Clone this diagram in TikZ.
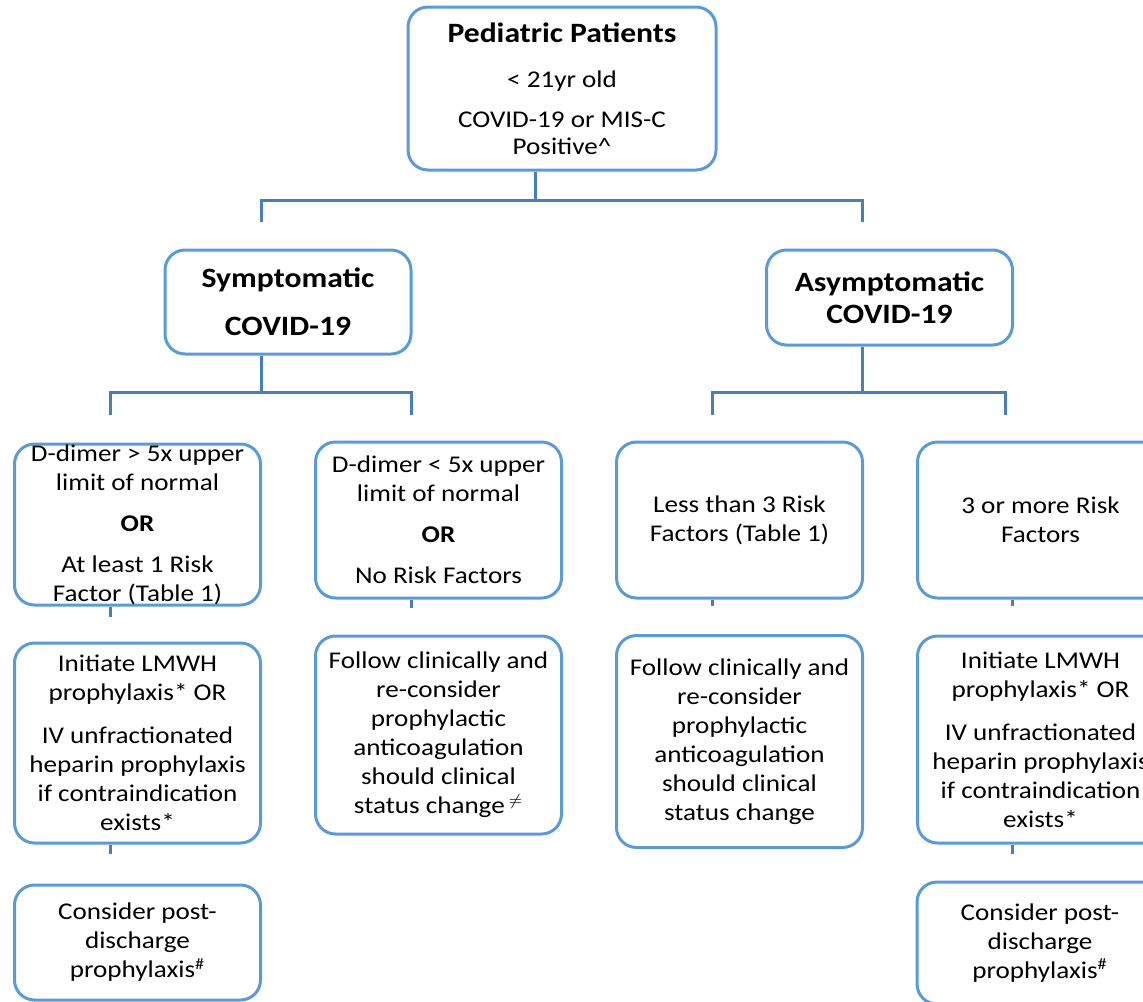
\documentclass[tikz,border=0pt]{standalone}
\usepackage{fontspec}
\setmainfont{Carlito}[FakeStretch=1.13]
\usepackage{tikz}
\usetikzlibrary{positioning}

\definecolor{boxblue}{RGB}{91,155,213}
\definecolor{lineblue}{RGB}{74,126,187}

\begin{document}
\begin{tikzpicture}[x=0.5pt,
            y=-0.5pt,
            node distance=150.5pt,
            box/.style={draw=boxblue, line width=1.5pt, rounded corners=10pt,
                        align=center, inner sep=0pt, minimum width=123pt,
                        font=\fontsize{12}{14.5}\selectfont},
            head/.style={box, font=\fontsize{14}{17}\selectfont\bfseries},
            link/.style={draw=lineblue, line width=1.5pt}]

        \useasboundingbox (0,0) rectangle (1143,1001);
        \clip (0,0) rectangle (1143,1001);

        % top of the tree
        \node[box, minimum width=154pt, minimum height=81.5pt] (top) at (562,88.5)
            {{\fontsize{14}{17}\selectfont\bfseries Pediatric Patients}\\[8pt]
             {\textless} 21yr old\\[5.5pt]
             COVID-19 or MIS-C\\[-1pt]Positive\textasciicircum};

        \node[head, minimum height=52pt] (sym)  at (288,302)     {Symptomatic\\[7pt]COVID-19};
        \node[head, minimum height=47.5pt] (asym) at (889.5,297.5) {Asymptomatic\\[-1pt]COVID-19};

        % criteria
        \node[box, minimum height=80.5pt] (r3a) at (137.5,524.5)
            {D-dimer {\textgreater} 5x upper\\limit of normal\\[6pt]\textbf{OR}\\[6pt]At least 1 Risk\\Factor (Table 1)};
        \node[box, minimum height=78pt]   (r3b) [right of=r3a, yshift=2.25pt]
            {D-dimer {\textless} 5x upper\\limit of normal\\[6pt]\textbf{OR}\\[6pt]No Risk Factors};
        \node[box, minimum height=78pt]   (r3c) [right of=r3b] {Less than 3 Risk\\Factors (Table 1)};
        \node[box, minimum height=78pt]   (r3d) [right of=r3c] {3 or more Risk\\Factors};

        % management
        \node[box, minimum height=100pt] (r4a) at (137.5,743)
            {Initiate LMWH\\prophylaxis* OR\\[7pt]IV unfractionated\\heparin prophylaxis\\if contraindication\\exists*};
        \node[box, minimum height=99pt]  (r4b) [right of=r4a, yshift=4pt]
            {Follow clinically and\\re-consider\\prophylactic\\anticoagulation\\should clinical\\status change\,\textsuperscript{$\neq$}};
        \node[box, minimum height=106pt] (r4c) [right of=r4b, yshift=-3.25pt]
            {Follow clinically and\\re-consider\\prophylactic\\anticoagulation\\should clinical\\status change};
        \node[box, minimum height=103.5pt] (r4d) [right of=r4c, yshift=1pt]
            {Initiate LMWH\\prophylaxis* OR\\[7pt]IV unfractionated\\heparin prophylaxis\\if contraindication\\exists*};

        \node[box, minimum height=57.5pt] (r5a) at (137.5,942.5)
            {Consider post-\\discharge\\prophylaxis\textsuperscript{\#}};
        \node[box, minimum height=61pt]   (r5d) at (1040,943)
            {Consider post-\\discharge\\prophylaxis\textsuperscript{\#}};

        % connector points
        \coordinate (jtop)  at (535,200);
        \coordinate (sin)   at (261,222);
        \coordinate (ain)   at (862,222);
        \coordinate (jsym)  at (261,392);
        \coordinate (jasym) at (862,392);
        \coordinate (c1) at (110,415);
        \coordinate (c2) at (411,415);
        \coordinate (c3) at (712,415);
        \coordinate (c4) at (1005,415);
        \coordinate (t1) at (110,617);
        \coordinate (t2) at (411,608);
        \coordinate (t3) at (712,606);
        \coordinate (t4) at (1012,606);
        \coordinate (t5) at (110,854);
        \coordinate (t6) at (1012,854);

        \draw[link] (top.south -| jtop) -- (jtop);
        \draw[link] (sin) |- (jtop) -| (ain);
        \draw[link] (sym.south -| jsym) -- (jsym);
        \draw[link] (c1) |- (jsym) -| (c2);
        \draw[link] (asym.south -| jasym) -- (jasym);
        \draw[link] (c3) |- (jasym) -| (c4);

        \draw[link] (r3a.south -| t1) -- (t1);
        \draw[link] (r3b.south -| t2) -- (t2);
        \draw[link] (r3c.south -| t3) -- (t3);
        \draw[link] (r3d.south -| t4) -- (t4);
        \draw[link] (r4a.south -| t5) -- (t5);
        \draw[link] (r4d.south -| t6) -- (t6);

    \end{tikzpicture}
\end{document}
